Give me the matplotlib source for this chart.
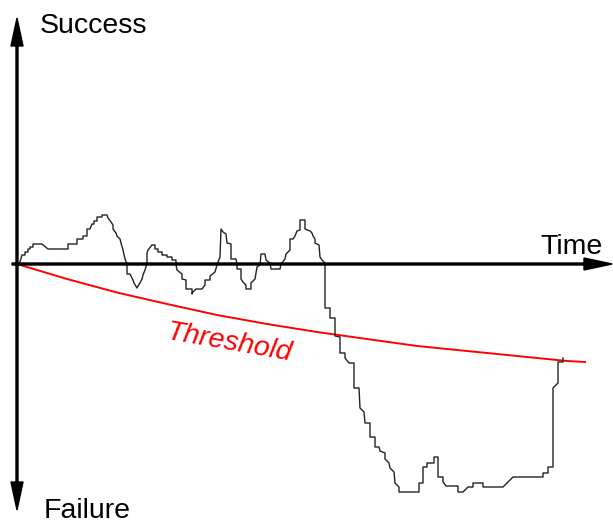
import matplotlib
matplotlib.use("Agg")
import matplotlib.pyplot as plt

# ------------------------------------------------------------------
# Data (time units, level units; axis origin = 0,0)
# ------------------------------------------------------------------
time = [0, 3, 5, 8, 8, 11, 11, 13, 13, 16, 16, 25, 31, 51, 51, 60, 60, 66, 66, 70,
        70, 73, 75, 77, 77, 80, 80, 85, 85, 90, 91, 94, 96, 96, 99, 100, 103, 104, 106, 108,
        110, 110, 113, 115, 116, 117, 120, 121, 123, 125, 126, 128, 130, 130, 131, 135, 138, 138, 141, 141,
        145, 145, 150, 150, 155, 155, 159, 159, 160, 165, 165, 169, 169, 175, 175, 176, 179, 185, 188, 188,
        193, 193, 198, 200, 203, 204, 206, 209, 210, 214, 214, 219, 220, 220, 224, 224, 226, 229, 229, 234,
        234, 238, 240, 243, 244, 248, 249, 253, 254, 263, 264, 268, 269, 273, 273, 276, 278, 280, 283, 283,
        288, 288, 293, 295, 296, 298, 298, 302, 303, 305, 308, 308, 313, 313, 318, 318, 323, 323, 328, 328,
        332, 337, 337, 342, 343, 347, 348, 353, 353, 358, 358, 362, 363, 368, 368, 372, 373, 377, 378, 382,
        382, 402, 402, 406, 406, 410, 410, 417, 417, 421, 421, 426, 426, 429, 441, 441, 446, 451, 456, 456,
        466, 466, 486, 496, 526, 526, 531, 531, 536, 536, 541, 541, 546, 546]
level = [0, 2, 9, 9, 12, 12, 15, 15, 17, 17, 20, 20, 15, 15, 20, 20, 25, 25, 28, 28,
         35, 35, 40, 40, 43, 43, 47, 47, 49, 49, 46, 42, 39, 35, 31, 28, 25, 21, 14, 5,
         0, -10, -10, -14, -16, -19, -24, -22, -19, -15, -11, -6, 1, 11, 14, 19, 19, 15, 15, 12,
         12, 9, 9, 7, 7, 4, 4, -1, -6, -10, -15, -16, -25, -25, -30, -28, -25, -25, -21, -16,
         -16, -12, -8, -1, 7, 35, 32, 30, 21, 20, 5, 5, -1, -5, -5, -15, -18, -21, -25, -25,
         -19, -15, -3, -1, 10, 10, 4, 1, -5, -5, 0, 5, 10, 14, 25, 25, 28, 33, 34, 44,
         44, 35, 33, 31, 28, 25, 21, 19, 7, 4, 1, -44, -44, -54, -54, -72, -73, -89, -89, -94,
         -99, -99, -124, -124, -144, -148, -159, -159, -173, -173, -183, -183, -187, -189, -195, -199, -204, -208, -219, -223,
         -228, -228, -219, -219, -203, -203, -199, -199, -193, -193, -213, -213, -218, -222, -222, -228, -228, -223, -223, -219,
         -219, -223, -223, -213, -213, -209, -209, -203, -203, -124, -119, -98, -98, -94]

threshold_time = [0, 50, 100, 150, 200, 250, 300, 350, 400, 450, 500, 550, 568]
threshold_level = [0, -15, -28.5, -40, -51, -60, -68, -75, -82, -87, -92, -97, -98]

# ------------------------------------------------------------------
# Figure
# ------------------------------------------------------------------
plt.rcParams["font.family"] = ["Liberation Sans", "DejaVu Sans"]

fig = plt.figure(figsize=(6.13, 5.23), dpi=100)
ax = fig.add_axes([0, 0, 1, 1])
ax.set_xlim(-17, 596)
ax.set_ylim(-259, 264)
ax.axis("off")

# axes arrows
arrow_kw = dict(width=2, head_width=12, head_length=28, length_includes_head=True,
                color="black", zorder=3)
ax.arrow(0, 0, 0, 246, **arrow_kw)
ax.arrow(0, 0, 0, -246, **arrow_kw)
ax.arrow(-5, 0, 600, 0, **arrow_kw)

# threshold and signal
ax.plot(threshold_time, threshold_level, color="red", lw=1.4, zorder=2)
ax.plot(time, level, color="#222222", lw=1.0, zorder=2)

ax.text(23, 231, "Success", fontsize=20.5, ha="left", va="baseline")
ax.text(27, -254, "Failure", fontsize=20.5, ha="left", va="baseline")
ax.text(523, 10, "Time", fontsize=20.5, ha="left", va="baseline")
ax.text(212, -79, "Threshold", fontsize=20.5, color="red", style="italic",
        rotation=-10, ha="center", va="center", rotation_mode="anchor")

fig.savefig("out.png", dpi=100)
